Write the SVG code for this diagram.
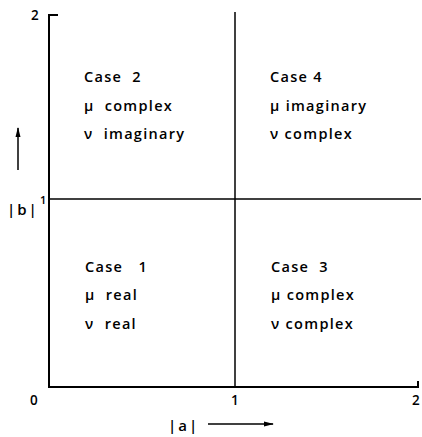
<svg xmlns="http://www.w3.org/2000/svg" width="422" height="437" viewBox="0 0 422 437">
<style>
.ax{stroke:#000;stroke-width:2;fill:none}
.ln{stroke:#000;stroke-width:1.5;fill:none}
text{font-family:"Open Sans","DejaVu Sans",sans-serif;font-size:14.5px;font-weight:600;fill:#000;letter-spacing:1.3px;white-space:pre}
.t{font-size:13.5px;letter-spacing:0}
.s{font-size:11px;letter-spacing:0}
.ab{font-size:15px;letter-spacing:2px}
</style>
<defs>
<marker id="ah" markerWidth="10" markerHeight="8" refX="9" refY="4" orient="auto" markerUnits="userSpaceOnUse">
<path d="M0,1.5 L10,4 L0,6.5 Z" fill="#000"/>
</marker>
</defs>
<rect width="422" height="437" fill="#fff"/>
<g id="connectors">
<path class="ax" d="M58,15 H49 V387 H418 V381"/>
<path class="ln" d="M235,12 V387"/>
<path class="ln" d="M49,199 H421"/>
<path class="ln" d="M18,170 V128" marker-end="url(#ah)"/>
<path class="ln" d="M208,424 H273" marker-end="url(#ah)"/>
</g>
<g id="axis-labels">
<text x="31" y="20" class="t">2</text>
<text x="40" y="204" class="s">1</text>
<text x="7" y="215" class="ab">|b|</text>
<text x="30" y="405" class="t">0</text>
<text x="231" y="405" class="t">1</text>
<text x="412" y="405" class="t">2</text>
<text x="168" y="431" class="ab">|a|</text>
</g>
<g id="case2">
<text x="84" y="82" xml:space="preserve">Case  2</text>
<text x="84" y="111" xml:space="preserve">μ  complex</text>
<text x="84" y="139" xml:space="preserve">ν  imaginary</text>
</g>
<g id="case4">
<text x="270" y="82">Case 4</text>
<text x="270" y="111">μ imaginary</text>
<text x="270" y="139">ν complex</text>
</g>
<g id="case1">
<text x="85" y="272" xml:space="preserve">Case   1</text>
<text x="85" y="300" xml:space="preserve">μ  real</text>
<text x="85" y="329" xml:space="preserve">ν  real</text>
</g>
<g id="case3">
<text x="271" y="272" xml:space="preserve">Case  3</text>
<text x="271" y="300">μ complex</text>
<text x="271" y="329">ν complex</text>
</g>
</svg>
